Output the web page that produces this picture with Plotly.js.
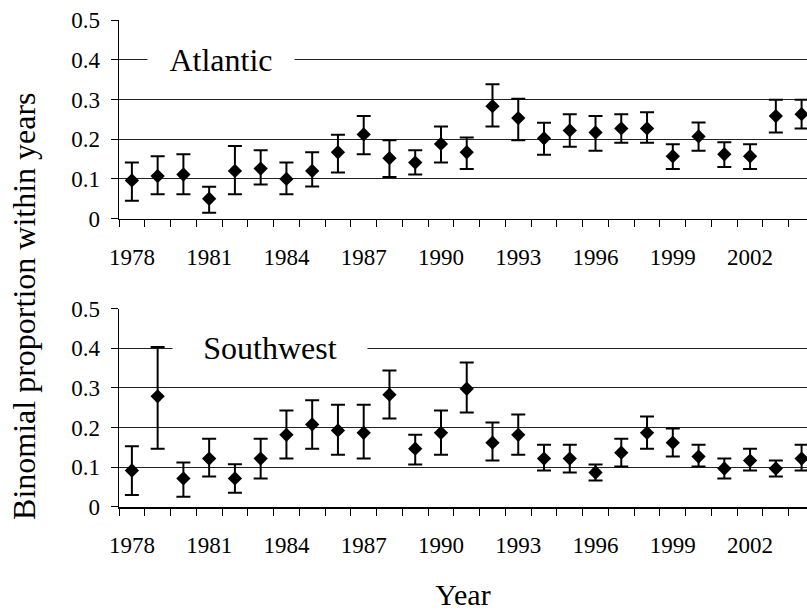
<!DOCTYPE html>
<html>
<head>
<meta charset="utf-8">
<script src="https://cdn.plot.ly/plotly-3.0.1.min.js"></script>
<style>html,body{margin:0;padding:0;background:#fff;}#chart{width:807px;height:611px;}</style>
</head>
<body>
<div id="chart"></div>
<script>
const years = [1978,1979,1980,1981,1982,1983,1984,1985,1986,1987,1988,1989,1990,1991,1992,1993,1994,1995,1996,1997,1998,1999,2000,2001,2002,2003,2004];
const labeledYears = [1978,1981,1984,1987,1990,1993,1996,1999,2002];

const atlanticVal  = [0.096,0.107,0.111,0.050,0.120,0.126,0.100,0.120,0.167,0.212,0.152,0.141,0.188,0.167,0.283,0.253,0.202,0.222,0.217,0.227,0.227,0.157,0.207,0.162,0.157,0.258,0.263];
const atlanticLow  = [0.045,0.061,0.061,0.015,0.061,0.086,0.061,0.081,0.116,0.162,0.105,0.111,0.141,0.125,0.232,0.197,0.161,0.181,0.171,0.191,0.191,0.125,0.171,0.130,0.125,0.217,0.227];
const atlanticHigh = [0.141,0.157,0.162,0.080,0.183,0.172,0.141,0.167,0.211,0.258,0.197,0.172,0.232,0.204,0.338,0.302,0.241,0.263,0.258,0.263,0.268,0.187,0.242,0.192,0.187,0.299,0.299];

const southwestVal  = [0.092,0.279,0.072,0.122,0.072,0.122,0.182,0.208,0.193,0.187,0.283,0.147,0.187,0.298,0.162,0.182,0.122,0.122,0.087,0.137,0.187,0.162,0.127,0.097,0.117,0.097,0.122];
const southwestLow  = [0.030,0.147,0.026,0.077,0.036,0.072,0.122,0.147,0.132,0.122,0.223,0.107,0.132,0.238,0.117,0.132,0.092,0.087,0.067,0.102,0.147,0.127,0.102,0.072,0.092,0.077,0.092];
const southwestHigh = [0.153,0.403,0.112,0.172,0.108,0.172,0.243,0.269,0.258,0.258,0.344,0.182,0.243,0.364,0.213,0.233,0.157,0.157,0.107,0.172,0.228,0.198,0.157,0.122,0.147,0.117,0.157];

const panelNames = ['Atlantic','Southwest'];

const cats = years.map(String);
const tickText = years.map(y => labeledYears.includes(y) ? String(y) : '');
const FONT = 'Liberation Serif';

function trace(vals, lows, highs, xa, ya){
  return {
    type:'scatter', mode:'markers', x:cats, y:vals, xaxis:xa, yaxis:ya,
    marker:{symbol:'diamond', size:11, color:'#000'},
    error_y:{type:'data', symmetric:false,
      array: highs.map((h,i)=>h-vals[i]),
      arrayminus: lows.map((l,i)=>vals[i]-l),
      color:'#000', thickness:2, width:7},
    showlegend:false, hoverinfo:'x+y'
  };
}

const data = [
  trace(atlanticVal, atlanticLow, atlanticHigh, 'x', 'y'),
  trace(southwestVal, southwestLow, southwestHigh, 'x2', 'y2')
];

function xaxis(anchor){
  return {
    type:'category', anchor:anchor, domain:[0,1],
    range:[-0.5, 26.21],
    tickmode:'array', tickvals:cats, ticktext:tickText, tickangle:0,
    tickson:'boundaries', ticks:'outside', ticklen:7, tickwidth:1, tickcolor:'#000',
    showline:true, linecolor:'#000', linewidth:1.5,
    showgrid:false, zeroline:false,
    tickfont:{family:FONT, size:23, color:'#000'},
    ticklabelstandoff:17
  };
}
function yaxis(anchor, domain){
  return {
    anchor:anchor, domain:domain, range:[0,0.5],
    tickmode:'array', tickvals:[0,0.1,0.2,0.3,0.4,0.5], ticktext:['0','0.1','0.2','0.3','0.4','0.5'],
    ticks:'outside', ticklen:7, tickwidth:1, tickcolor:'#000',
    showline:true, linecolor:'#000', linewidth:1.5,
    showgrid:true, gridcolor:'#222', gridwidth:1, zeroline:false,
    tickfont:{family:FONT, size:23, color:'#000'},
    ticklabelstandoff:6
  };
}

const layout = {
  width:807, height:611,
  margin:{l:119, r:0, t:20, b:104},
  paper_bgcolor:'#fff', plot_bgcolor:'#fff',
  font:{family:FONT, color:'#000'},
  xaxis: xaxis('y'),
  yaxis: yaxis('x', [0.5922, 1]),
  xaxis2: Object.assign(xaxis('y2'), {title:{text:'Year', font:{family:FONT, size:30, color:'#000'}, standoff:30}}),
  yaxis2: yaxis('x2', [0, 0.4074]),
  annotations:[
    {text:panelNames[0], xref:'x', yref:'y', x:3.45, y:0.4, xanchor:'center', yanchor:'middle',
     showarrow:false, bgcolor:'#fff', width:144, height:30, font:{family:FONT, size:32, color:'#000'}},
    {text:panelNames[1], xref:'x2', yref:'y2', x:5.35, y:0.4, xanchor:'center', yanchor:'middle',
     showarrow:false, bgcolor:'#fff', width:192, height:30, font:{family:FONT, size:32, color:'#000'}},
    {text:'Binomial proportion within years', xref:'paper', yref:'paper', x:-0.138, y:0.413,
     xanchor:'center', yanchor:'middle', textangle:-90, showarrow:false,
     font:{family:FONT, size:32, color:'#000'}}
  ]
};

Plotly.newPlot('chart', data, layout, {displayModeBar:false, staticPlot:true});
</script>
</body>
</html>
